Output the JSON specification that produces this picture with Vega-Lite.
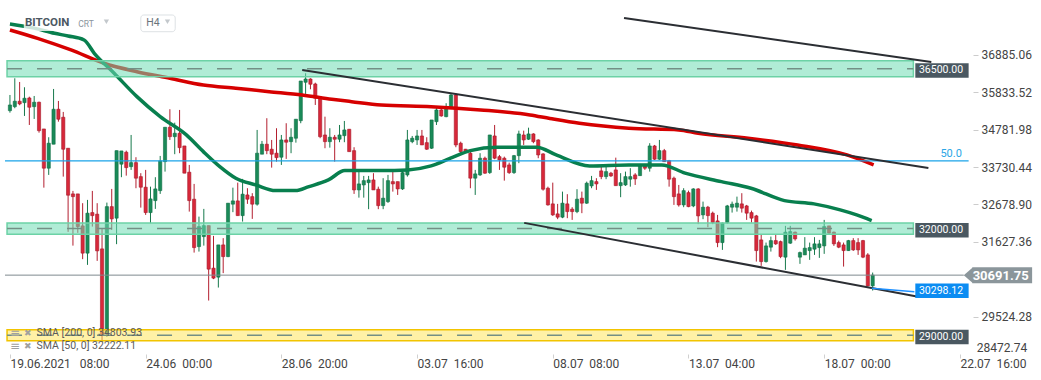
{
  "$schema": "https://vega.github.io/schema/vega-lite/v6.json",
  "width": 1041,
  "height": 354,
  "autosize": {"type": "none"},
  "padding": {"left": 0, "top": 0, "right": 0, "bottom": 26},
  "background": "#ffffff",
  "config": {"view": {"stroke": null}, "font": "Roboto"},
  "datasets": {
    "candles": [
      {"k":0,"o":35319,"h":35760,"l":35263,"c":35479},
      {"k":1,"o":35431,"h":36230,"l":35387,"c":35584},
      {"k":2,"o":35584,"h":36126,"l":35471,"c":35508},
      {"k":3,"o":35544,"h":35977,"l":35170,"c":35668},
      {"k":4,"o":35676,"h":35712,"l":34916,"c":35415},
      {"k":5,"o":35431,"h":35732,"l":35086,"c":35556},
      {"k":6,"o":35556,"h":35572,"l":34700,"c":34756},
      {"k":7,"o":34804,"h":34804,"l":33153,"c":33700},
      {"k":8,"o":33700,"h":34571,"l":33511,"c":34403},
      {"k":9,"o":34375,"h":35929,"l":34375,"c":35359},
      {"k":10,"o":35359,"h":35592,"l":35009,"c":35078},
      {"k":11,"o":35134,"h":35283,"l":33463,"c":34234},
      {"k":12,"o":34262,"h":34262,"l":31909,"c":32940},
      {"k":13,"o":32977,"h":33061,"l":31522,"c":32900},
      {"k":14,"o":32977,"h":32977,"l":31881,"c":32057},
      {"k":15,"o":32077,"h":32716,"l":31141,"c":31310},
      {"k":16,"o":31310,"h":32808,"l":30980,"c":32435},
      {"k":17,"o":32451,"h":33061,"l":32057,"c":32366},
      {"k":18,"o":32407,"h":32716,"l":31093,"c":31374},
      {"k":19,"o":31430,"h":31993,"l":28816,"c":29012},
      {"k":20,"o":29069,"h":32732,"l":28956,"c":32619},
      {"k":21,"o":32619,"h":33117,"l":31965,"c":32274},
      {"k":22,"o":32294,"h":34194,"l":31563,"c":34194},
      {"k":23,"o":33813,"h":34186,"l":33447,"c":34186},
      {"k":24,"o":34150,"h":34194,"l":33491,"c":33716},
      {"k":25,"o":33744,"h":34635,"l":33652,"c":33857},
      {"k":26,"o":33857,"h":34009,"l":33137,"c":33419},
      {"k":27,"o":33463,"h":33560,"l":32591,"c":33165},
      {"k":28,"o":33165,"h":33652,"l":32386,"c":32451},
      {"k":29,"o":32451,"h":33181,"l":32154,"c":32836},
      {"k":30,"o":32788,"h":33447,"l":32555,"c":33117},
      {"k":31,"o":33069,"h":34045,"l":32977,"c":33905},
      {"k":32,"o":33885,"h":34852,"l":33604,"c":34852},
      {"k":33,"o":34852,"h":35359,"l":34495,"c":34587},
      {"k":34,"o":34587,"h":34981,"l":34094,"c":34684},
      {"k":35,"o":34684,"h":35339,"l":34122,"c":34278},
      {"k":36,"o":34326,"h":34326,"l":33560,"c":33560},
      {"k":37,"o":33588,"h":33792,"l":32479,"c":32788},
      {"k":38,"o":32828,"h":33258,"l":31326,"c":31466},
      {"k":39,"o":31494,"h":32338,"l":31354,"c":32057},
      {"k":40,"o":31776,"h":32555,"l":31522,"c":32085},
      {"k":41,"o":32085,"h":32085,"l":29977,"c":30860},
      {"k":42,"o":30888,"h":31796,"l":30579,"c":30607},
      {"k":43,"o":30635,"h":31542,"l":30342,"c":31542},
      {"k":44,"o":31542,"h":31732,"l":30748,"c":31213},
      {"k":45,"o":31213,"h":32716,"l":31197,"c":32716},
      {"k":46,"o":32688,"h":33153,"l":32463,"c":32780},
      {"k":47,"o":32780,"h":33294,"l":32366,"c":32366},
      {"k":48,"o":32366,"h":33399,"l":32198,"c":32969},
      {"k":49,"o":32948,"h":33137,"l":32696,"c":32828},
      {"k":50,"o":32900,"h":32997,"l":32274,"c":32688},
      {"k":51,"o":32688,"h":34776,"l":32647,"c":34122},
      {"k":52,"o":34094,"h":34467,"l":34094,"c":34375},
      {"k":53,"o":34375,"h":35106,"l":34094,"c":34194},
      {"k":54,"o":34234,"h":34495,"l":33716,"c":34094},
      {"k":55,"o":34122,"h":34824,"l":33885,"c":33997},
      {"k":56,"o":34009,"h":34635,"l":33792,"c":34495},
      {"k":57,"o":34495,"h":34965,"l":33961,"c":34431},
      {"k":58,"o":34447,"h":34824,"l":34122,"c":34571},
      {"k":59,"o":34543,"h":35078,"l":34419,"c":35078},
      {"k":60,"o":35037,"h":36154,"l":34965,"c":36154},
      {"k":61,"o":36118,"h":36371,"l":35789,"c":36210},
      {"k":62,"o":36210,"h":36230,"l":35921,"c":36062},
      {"k":63,"o":36070,"h":36106,"l":35479,"c":35668},
      {"k":64,"o":35712,"h":35712,"l":34543,"c":34587},
      {"k":65,"o":34635,"h":35150,"l":34262,"c":34447},
      {"k":66,"o":34447,"h":34824,"l":34278,"c":34571},
      {"k":67,"o":34571,"h":34635,"l":33885,"c":34515},
      {"k":68,"o":34515,"h":34916,"l":34431,"c":34635},
      {"k":69,"o":34615,"h":35029,"l":34431,"c":34776},
      {"k":70,"o":34796,"h":34796,"l":34166,"c":34166},
      {"k":71,"o":34194,"h":34290,"l":32977,"c":33089},
      {"k":72,"o":33089,"h":33632,"l":32872,"c":33258},
      {"k":73,"o":33229,"h":33483,"l":32872,"c":33350},
      {"k":74,"o":33294,"h":33483,"l":32547,"c":33370},
      {"k":75,"o":33370,"h":33560,"l":33089,"c":33089},
      {"k":76,"o":33109,"h":33181,"l":32547,"c":32647},
      {"k":77,"o":32647,"h":33419,"l":32547,"c":32856},
      {"k":78,"o":32760,"h":33511,"l":32724,"c":33350},
      {"k":79,"o":33322,"h":33604,"l":33041,"c":33258},
      {"k":80,"o":33322,"h":33322,"l":32948,"c":33117},
      {"k":81,"o":33117,"h":33652,"l":33089,"c":33576},
      {"k":82,"o":33511,"h":34776,"l":33463,"c":34495},
      {"k":83,"o":34447,"h":34607,"l":34403,"c":34543},
      {"k":84,"o":34495,"h":34776,"l":34354,"c":34607},
      {"k":85,"o":34607,"h":34776,"l":34354,"c":34354},
      {"k":86,"o":34419,"h":34571,"l":34214,"c":34234},
      {"k":87,"o":34262,"h":35057,"l":34242,"c":35057},
      {"k":88,"o":35009,"h":35431,"l":34916,"c":35339},
      {"k":89,"o":35339,"h":35431,"l":35150,"c":35170},
      {"k":90,"o":35150,"h":35528,"l":35134,"c":35387},
      {"k":91,"o":35387,"h":35809,"l":35387,"c":35760},
      {"k":92,"o":35760,"h":35809,"l":34290,"c":34354},
      {"k":93,"o":34403,"h":34447,"l":34073,"c":34166},
      {"k":94,"o":34234,"h":34242,"l":34158,"c":34166},
      {"k":95,"o":34122,"h":34234,"l":33137,"c":33419},
      {"k":96,"o":33419,"h":33652,"l":32948,"c":33540},
      {"k":97,"o":33511,"h":34122,"l":33483,"c":33981},
      {"k":98,"o":33981,"h":34025,"l":33540,"c":33560},
      {"k":99,"o":33576,"h":34635,"l":33540,"c":34635},
      {"k":100,"o":34607,"h":34916,"l":33953,"c":33981},
      {"k":101,"o":34025,"h":34073,"l":33652,"c":33933},
      {"k":102,"o":33981,"h":34025,"l":33350,"c":33728},
      {"k":103,"o":33792,"h":33857,"l":33540,"c":33576},
      {"k":104,"o":33576,"h":34073,"l":33540,"c":34053},
      {"k":105,"o":34053,"h":34756,"l":33841,"c":34664},
      {"k":106,"o":34635,"h":34756,"l":34354,"c":34495},
      {"k":107,"o":34515,"h":34840,"l":34495,"c":34664},
      {"k":108,"o":34664,"h":34684,"l":34403,"c":34447},
      {"k":109,"o":34495,"h":34515,"l":33981,"c":34073},
      {"k":110,"o":34102,"h":34122,"l":33069,"c":33109},
      {"k":111,"o":33137,"h":33181,"l":32647,"c":32667},
      {"k":112,"o":32696,"h":33294,"l":32358,"c":32386},
      {"k":113,"o":32415,"h":32696,"l":32266,"c":32322},
      {"k":114,"o":32322,"h":33041,"l":32294,"c":32716},
      {"k":115,"o":32696,"h":32969,"l":32294,"c":32479},
      {"k":116,"o":32547,"h":32603,"l":32246,"c":32479},
      {"k":117,"o":32479,"h":33109,"l":32435,"c":32828},
      {"k":118,"o":32856,"h":33041,"l":32435,"c":32716},
      {"k":119,"o":32716,"h":33322,"l":32696,"c":33278},
      {"k":120,"o":33201,"h":33483,"l":33137,"c":33350},
      {"k":121,"o":33322,"h":33419,"l":33089,"c":33258},
      {"k":122,"o":33624,"h":33744,"l":33391,"c":33463},
      {"k":123,"o":33463,"h":33744,"l":33391,"c":33604},
      {"k":124,"o":33560,"h":33596,"l":33455,"c":33483},
      {"k":125,"o":33652,"h":33997,"l":33209,"c":33209},
      {"k":126,"o":33209,"h":33560,"l":32884,"c":33294},
      {"k":127,"o":33229,"h":33604,"l":33201,"c":33463},
      {"k":128,"o":33391,"h":33700,"l":33181,"c":33463},
      {"k":129,"o":33511,"h":33560,"l":33229,"c":33399},
      {"k":130,"o":33491,"h":33821,"l":33483,"c":33764},
      {"k":131,"o":33764,"h":33821,"l":33652,"c":33700},
      {"k":132,"o":33700,"h":34403,"l":33604,"c":34326},
      {"k":133,"o":34326,"h":34354,"l":33933,"c":33953},
      {"k":134,"o":33953,"h":34495,"l":33933,"c":34194},
      {"k":135,"o":34194,"h":34242,"l":33877,"c":33885},
      {"k":136,"o":33913,"h":33933,"l":33181,"c":33391},
      {"k":137,"o":33419,"h":33463,"l":32667,"c":32900},
      {"k":138,"o":32977,"h":33229,"l":32619,"c":32667},
      {"k":139,"o":32667,"h":33137,"l":32603,"c":33069},
      {"k":140,"o":33013,"h":33069,"l":32603,"c":32619},
      {"k":141,"o":32639,"h":33137,"l":32603,"c":33117},
      {"k":142,"o":33117,"h":33137,"l":32126,"c":32358},
      {"k":143,"o":32386,"h":32760,"l":32266,"c":32603},
      {"k":144,"o":32603,"h":32639,"l":32041,"c":32366},
      {"k":145,"o":32435,"h":32479,"l":32126,"c":32170},
      {"k":146,"o":32218,"h":32386,"l":31478,"c":31607},
      {"k":147,"o":31607,"h":32170,"l":31402,"c":32154},
      {"k":148,"o":32170,"h":32667,"l":32134,"c":32639},
      {"k":149,"o":32603,"h":32760,"l":32451,"c":32688},
      {"k":150,"o":32603,"h":32900,"l":32479,"c":32716},
      {"k":151,"o":32696,"h":32997,"l":32451,"c":32575},
      {"k":152,"o":32639,"h":32667,"l":32246,"c":32435},
      {"k":153,"o":32451,"h":32507,"l":32170,"c":32294},
      {"k":154,"o":32358,"h":32386,"l":31073,"c":31382},
      {"k":155,"o":31683,"h":31824,"l":30952,"c":31073},
      {"k":156,"o":31073,"h":31607,"l":31045,"c":31514},
      {"k":157,"o":31478,"h":31776,"l":31354,"c":31663},
      {"k":158,"o":31663,"h":31824,"l":31542,"c":31571},
      {"k":159,"o":31635,"h":31663,"l":31169,"c":31213},
      {"k":160,"o":31197,"h":32077,"l":30840,"c":31901},
      {"k":161,"o":31591,"h":32077,"l":31571,"c":31917},
      {"k":162,"o":31901,"h":31917,"l":31663,"c":31712},
      {"k":163,"o":31197,"h":31354,"l":31009,"c":31326},
      {"k":164,"o":31261,"h":31760,"l":31261,"c":31450},
      {"k":165,"o":31382,"h":31607,"l":31121,"c":31466},
      {"k":166,"o":31422,"h":31760,"l":31261,"c":31571},
      {"k":167,"o":31466,"h":31683,"l":31177,"c":31571},
      {"k":168,"o":31514,"h":32246,"l":31290,"c":32057},
      {"k":169,"o":32077,"h":32077,"l":31853,"c":31873},
      {"k":170,"o":31901,"h":31917,"l":31514,"c":31571},
      {"k":171,"o":31607,"h":31663,"l":31450,"c":31478},
      {"k":172,"o":31542,"h":31607,"l":30932,"c":31382},
      {"k":173,"o":31382,"h":31683,"l":31374,"c":31663},
      {"k":174,"o":31663,"h":31732,"l":31374,"c":31402},
      {"k":175,"o":31607,"h":31732,"l":31261,"c":31402},
      {"k":176,"o":31663,"h":31683,"l":31169,"c":31197},
      {"k":177,"o":31261,"h":31310,"l":30370,"c":30390},
      {"k":178,"o":30390,"h":30764,"l":30258,"c":30691.75}
    ],
    "sma200": [
      {"k":0,"p":37588},{"k":5.7,"p":37354},{"k":12.6,"p":37026},{"k":19.4,"p":36652},
      {"k":26.2,"p":36415},{"k":33,"p":36230},{"k":39.9,"p":36041},{"k":46.6,"p":35949},
      {"k":53.5,"p":35853},{"k":60.3,"p":35760},{"k":66.4,"p":35640},{"k":70.5,"p":35572},
      {"k":76.6,"p":35479},{"k":86.9,"p":35431},{"k":97.1,"p":35339},{"k":107.3,"p":35198},
      {"k":111.4,"p":35100},{"k":117.5,"p":34965},{"k":127.7,"p":34824},{"k":138,"p":34776},
      {"k":142,"p":34683},{"k":152.3,"p":34543},{"k":162.5,"p":34355},{"k":172.7,"p":34073},
      {"k":178.2,"p":33792}
    ],
    "sma50": [
      {"k":0,"p":37757},{"k":5,"p":37640},{"k":9.2,"p":37495},{"k":12,"p":37420},
      {"k":15.3,"p":37307},{"k":17.4,"p":36933},{"k":21.5,"p":36371},{"k":26.2,"p":35713},
      {"k":31,"p":35150},{"k":36.4,"p":34636},{"k":39.9,"p":34166},{"k":43.3,"p":33745},
      {"k":46.6,"p":33418},{"k":50.7,"p":33230},{"k":54.8,"p":33070},{"k":58.9,"p":33070},
      {"k":61.7,"p":33182},{"k":65.7,"p":33370},{"k":69.1,"p":33632},{"k":76.6,"p":33632},
      {"k":82.1,"p":33652},{"k":86.9,"p":33764},{"k":90.9,"p":33981},{"k":95,"p":34194},
      {"k":100.5,"p":34290},{"k":108.7,"p":34290},{"k":112.7,"p":34073},{"k":119.6,"p":33764},
      {"k":127.7,"p":33792},{"k":134.5,"p":33792},{"k":139.3,"p":33560},{"k":146.8,"p":33323},
      {"k":152.9,"p":33137},{"k":159.8,"p":32788},{"k":165.9,"p":32696},{"k":171.3,"p":32527},
      {"k":174.7,"p":32386},{"k":177.8,"p":32226}
    ],
    "zones": [
      {"mid":36500,"lo":36270,"hi":36720},
      {"mid":32000,"lo":31845,"hi":32155},
      {"mid":29000,"lo":28845,"hi":29155}
    ],
    "trend": [
      {"id":"t1","k":126.7,"p":37925},{"id":"t1","k":190.1,"p":36688},
      {"id":"t2","k":60.3,"p":36463},{"id":"t2","k":189.5,"p":33708},
      {"id":"t3","k":106.1,"p":32162},{"id":"t3","k":187.4,"p":30081}
    ],
    "marker": [
      {"k":177.8,"p":30320},{"k":186.6,"p":30221}
    ],
    "tags": [
      {"v":36500,"t":"36500.00","kind":"zone"},
      {"v":32000,"t":"32000.00","kind":"zone"},
      {"v":29000,"t":"29000.00","kind":"zone"},
      {"v":30298.12,"t":"30298.12","kind":"trend"}
    ],
    "current": [{"v":30691.75,"t":"30691.75"}],
    "fib": [{"v":33905,"t":"50.0"}]
  },
  "layer": [
    {
      "data": {"name": "candles"},
      "mark": {"type": "rule", "strokeWidth": 1},
      "encoding": {
        "x": {"field": "k", "type": "quantitative",
          "scale": {"domain": [-1.02, 211.7], "nice": false, "zero": false},
          "axis": {"orient": "bottom", "title": null, "values": [0, 28, 56, 84, 112, 140, 168, 196],
            "labelExpr": "['19.06.2021\u00a0\u00a0\u00a008:00','24.06\u00a0\u00a000:00','28.06\u00a0\u00a020:00','03.07\u00a0\u00a016:00','08.07\u00a0\u00a008:00','13.07\u00a0\u00a004:00','18.07\u00a0\u00a000:00','22.07\u00a0\u00a016:00'][round(datum.value/28)]",
            "domain": false, "grid": false, "ticks": true, "tickSize": 4, "tickColor": "#d0d0d0",
            "labelAlign": "left", "labelBaseline": "alphabetic", "labelPadding": 9, "labelDx": -2,
            "labelFont": "Roboto", "labelFontSize": 12, "labelColor": "#444444",
            "labelOverlap": false}},
        "y": {"field": "l", "type": "quantitative",
          "scale": {"domain": [28472.74, 38432], "nice": false, "zero": false},
          "axis": {"orient": "right", "offset": -68, "title": null,
            "values": [29524.28, 31627.36, 32678.9, 33730.44, 34781.98, 35833.52, 36885.06],
            "format": ".2f", "domain": false, "grid": false, "tickSize": 5, "tickColor": "#cccccc",
            "labelPadding": 3, "labelFont": "Roboto", "labelFontSize": 12, "labelColor": "#444444",
            "labelOverlap": false}},
        "y2": {"field": "h"},
        "color": {"condition": {"test": "datum.c >= datum.o", "value": "#17794c"}, "value": "#b31f2f"}
      }
    },
    {
      "data": {"name": "candles"},
      "mark": {"type": "bar", "width": 3.2, "strokeWidth": 0.6},
      "encoding": {
        "x": {"field": "k", "type": "quantitative"},
        "y": {"field": "o", "type": "quantitative"},
        "y2": {"field": "c"},
        "fill": {"condition": {"test": "datum.c >= datum.o", "value": "#1a8a58"}, "value": "#d8283a"},
        "stroke": {"condition": {"test": "datum.c >= datum.o", "value": "#0f6e44"}, "value": "#a51a2a"}
      }
    },
    {
      "data": {"name": "sma200"},
      "mark": {"type": "line", "color": "#d60000", "strokeWidth": 3.5, "interpolate": "monotone"},
      "encoding": {
        "x": {"field": "k", "type": "quantitative"},
        "y": {"field": "p", "type": "quantitative"}
      }
    },
    {
      "data": {"name": "sma50"},
      "mark": {"type": "line", "color": "#087f4e", "strokeWidth": 3.5, "interpolate": "monotone"},
      "encoding": {
        "x": {"field": "k", "type": "quantitative"},
        "y": {"field": "p", "type": "quantitative"}
      }
    },
    {
      "data": {"name": "zones"},
      "mark": {"type": "rect", "fillOpacity": 0.55, "strokeWidth": 1.5},
      "encoding": {
        "x": {"datum": -0.6, "type": "quantitative"},
        "x2": {"datum": 186.4},
        "y": {"field": "lo", "type": "quantitative"},
        "y2": {"field": "hi"},
        "fill": {"condition": {"test": "datum.mid == 29000", "value": "#ffe55c"}, "value": "#6fdcb4"},
        "stroke": {"condition": {"test": "datum.mid == 29000", "value": "#f2c400"}, "value": "#6cd2a6"}
      }
    },
    {
      "data": {"name": "zones"},
      "mark": {"type": "rule", "strokeDash": [15, 15], "strokeWidth": 1.5, "color": "#738f85"},
      "encoding": {
        "x": {"datum": -0.6, "type": "quantitative"},
        "x2": {"datum": 186.4},
        "y": {"field": "mid", "type": "quantitative"}
      }
    },
    {
      "data": {"values": [{"lo": 37560, "hi": 38010}]},
      "mark": {"type": "rect", "color": "#ffffff", "opacity": 0.8},
      "encoding": {
        "x": {"datum": 2.86, "type": "quantitative"},
        "x2": {"datum": 11.85},
        "y": {"field": "lo", "type": "quantitative"},
        "y2": {"field": "hi"}
      }
    },
    {
      "data": {"name": "current"},
      "mark": {"type": "rule", "color": "#7f8a8f", "strokeWidth": 1},
      "encoding": {
        "x": {"datum": -1.02, "type": "quantitative"},
        "x2": {"datum": 196.8},
        "y": {"field": "v", "type": "quantitative"}
      }
    },
    {
      "data": {"name": "fib"},
      "mark": {"type": "rule", "color": "#1aa3e8", "strokeWidth": 1.3},
      "encoding": {
        "x": {"datum": -1.02, "type": "quantitative"},
        "x2": {"datum": 197.8},
        "y": {"field": "v", "type": "quantitative"}
      }
    },
    {
      "data": {"name": "trend"},
      "mark": {"type": "line", "color": "#2b2e33", "strokeWidth": 2},
      "encoding": {
        "x": {"field": "k", "type": "quantitative"},
        "y": {"field": "p", "type": "quantitative"},
        "detail": {"field": "id"}
      }
    },
    {
      "data": {"name": "marker"},
      "mark": {"type": "line", "color": "#1e90ff", "strokeWidth": 1.5},
      "encoding": {
        "x": {"field": "k", "type": "quantitative"},
        "y": {"field": "p", "type": "quantitative"}
      }
    },
    {
      "data": {"name": "tags"},
      "mark": {"type": "rect", "yOffset": -5.5, "y2Offset": 9},
      "encoding": {
        "x": {"datum": 186.8, "type": "quantitative"},
        "x2": {"datum": 197.8},
        "y": {"field": "v", "type": "quantitative"},
        "y2": {"field": "v"},
        "color": {"condition": {"test": "datum.kind == 'trend'", "value": "#0b8cf2"}, "value": "#4a5861"}
      }
    },
    {
      "data": {"name": "tags"},
      "mark": {"type": "text", "color": "#ffffff", "fontSize": 10.5, "font": "Roboto", "align": "center", "baseline": "middle", "dy": 1.8},
      "encoding": {
        "x": {"datum": 192.1, "type": "quantitative"},
        "y": {"field": "v", "type": "quantitative"},
        "text": {"field": "t"}
      }
    },
    {
      "data": {"name": "current"},
      "mark": {"type": "rect", "color": "#8b969b", "yOffset": -8, "y2Offset": 8},
      "encoding": {
        "x": {"datum": 198.6, "type": "quantitative"},
        "x2": {"datum": 210.9},
        "y": {"field": "v", "type": "quantitative"},
        "y2": {"field": "v"}
      }
    },
    {
      "data": {"name": "current"},
      "mark": {"type": "point", "shape": "M-1,0L0.15,-1L0.15,1Z", "size": 256, "filled": true, "color": "#8b969b", "opacity": 1, "strokeWidth": 0},
      "encoding": {
        "x": {"datum": 198.45, "type": "quantitative"},
        "y": {"field": "v", "type": "quantitative"}
      }
    },
    {
      "data": {"name": "current"},
      "mark": {"type": "text", "color": "#ffffff", "fontSize": 13, "fontWeight": "bold", "font": "Roboto", "align": "center", "baseline": "middle", "dy": 0.5},
      "encoding": {
        "x": {"datum": 204.4, "type": "quantitative"},
        "y": {"field": "v", "type": "quantitative"},
        "text": {"field": "t"}
      }
    },
    {
      "data": {"name": "fib"},
      "mark": {"type": "text", "color": "#2ba6e6", "fontSize": 11, "font": "Roboto", "align": "right", "baseline": "alphabetic", "dy": -4},
      "encoding": {
        "x": {"datum": 196.4, "type": "quantitative"},
        "y": {"field": "v", "type": "quantitative"},
        "text": {"field": "t"}
      }
    },
    {
      "data": {"values": [{"t": "28472.74"}]},
      "mark": {"type": "text", "color": "#444444", "fontSize": 12, "font": "Roboto", "align": "left", "baseline": "bottom", "dy": 1},
      "encoding": {
        "x": {"datum": 199.5, "type": "quantitative"},
        "y": {"datum": 28472.74, "type": "quantitative"},
        "text": {"field": "t"}
      }
    },
    {
      "data": {"values": [{"t": "BITCOIN"}]},
      "mark": {"type": "text", "color": "#4d5863", "fontSize": 11.5, "fontWeight": "bold", "font": "Roboto", "align": "left", "baseline": "middle"},
      "encoding": {
        "x": {"datum": 3.1, "type": "quantitative"},
        "y": {"datum": 37785, "type": "quantitative"},
        "text": {"field": "t"}
      }
    },
    {
      "data": {"values": [{"t": "CRT"}]},
      "mark": {"type": "text", "color": "#8a949c", "fontSize": 8.5, "font": "Roboto", "align": "left", "baseline": "middle", "dy": 1},
      "encoding": {
        "x": {"datum": 14.1, "type": "quantitative"},
        "y": {"datum": 37785, "type": "quantitative"},
        "text": {"field": "t"}
      }
    },
    {
      "data": {"values": [{"lo": 37540, "hi": 38010}]},
      "mark": {"type": "rect", "fill": "#ffffff", "stroke": "#dde1e4", "strokeWidth": 1, "cornerRadius": 3},
      "encoding": {
        "x": {"datum": 27.0, "type": "quantitative"},
        "x2": {"datum": 34.1},
        "y": {"field": "lo", "type": "quantitative"},
        "y2": {"field": "hi"}
      }
    },
    {
      "data": {"values": [{"t": "H4"}]},
      "mark": {"type": "text", "color": "#6b747b", "fontSize": 10.5, "font": "Roboto", "align": "left", "baseline": "middle"},
      "encoding": {
        "x": {"datum": 28.1, "type": "quantitative"},
        "y": {"datum": 37785, "type": "quantitative"},
        "text": {"field": "t"}
      }
    },
    {
      "data": {"values": [{"k": 19.9}, {"k": 32.5}]},
      "mark": {"type": "point", "shape": "triangle-down", "size": 28, "filled": true, "color": "#c3c8cc", "opacity": 1},
      "encoding": {
        "x": {"field": "k", "type": "quantitative"},
        "y": {"datum": 37820, "type": "quantitative"}
      }
    },
    {
      "data": {"values": [{"t": "≡"}]},
      "mark": {"type": "text", "color": "#a0a0a0", "fontSize": 12, "font": "DejaVu Sans", "align": "left", "baseline": "middle"},
      "encoding": {
        "x": {"datum": 0, "type": "quantitative"},
        "y": {"datum": 29064, "type": "quantitative"},
        "text": {"field": "t"}
      }
    },
    {
      "data": {"values": [{"t": "≡"}]},
      "mark": {"type": "text", "color": "#a0a0a0", "fontSize": 12, "font": "DejaVu Sans", "align": "left", "baseline": "middle"},
      "encoding": {
        "x": {"datum": 0, "type": "quantitative"},
        "y": {"datum": 28684, "type": "quantitative"},
        "text": {"field": "t"}
      }
    },
    {
      "data": {"values": [{"t": "✖"}]},
      "mark": {"type": "text", "color": "#a0a0a0", "fontSize": 9, "font": "DejaVu Sans", "align": "left", "baseline": "middle"},
      "encoding": {
        "x": {"datum": 2.9, "type": "quantitative"},
        "y": {"datum": 29064, "type": "quantitative"},
        "text": {"field": "t"}
      }
    },
    {
      "data": {"values": [{"t": "✖"}]},
      "mark": {"type": "text", "color": "#a0a0a0", "fontSize": 9, "font": "DejaVu Sans", "align": "left", "baseline": "middle"},
      "encoding": {
        "x": {"datum": 2.9, "type": "quantitative"},
        "y": {"datum": 28684, "type": "quantitative"},
        "text": {"field": "t"}
      }
    },
    {
      "data": {"values": [{"t": "SMA [200, 0] 34803.93"}]},
      "mark": {"type": "text", "color": "#5c5c5c", "fontSize": 10.5, "font": "Roboto", "align": "left", "baseline": "middle"},
      "encoding": {
        "x": {"datum": 5.5, "type": "quantitative"},
        "y": {"datum": 29064, "type": "quantitative"},
        "text": {"field": "t"}
      }
    },
    {
      "data": {"values": [{"t": "SMA [50, 0] 32222.11"}]},
      "mark": {"type": "text", "color": "#5c5c5c", "fontSize": 10.5, "font": "Roboto", "align": "left", "baseline": "middle"},
      "encoding": {
        "x": {"datum": 5.5, "type": "quantitative"},
        "y": {"datum": 28684, "type": "quantitative"},
        "text": {"field": "t"}
      }
    }
  ]
}
